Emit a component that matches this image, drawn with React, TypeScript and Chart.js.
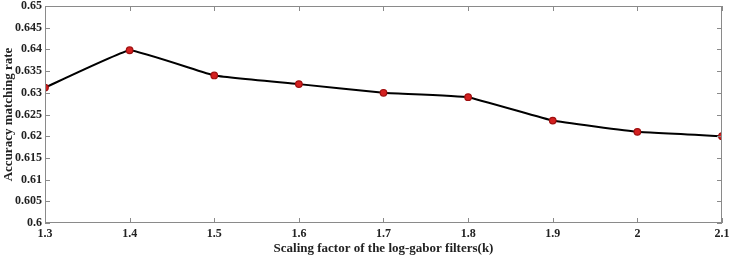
import React, { useEffect, useRef } from "react";
import { Chart, registerables } from "chart.js";
Chart.register(...registerables);

const xValues = [1.3, 1.4, 1.5, 1.6, 1.7, 1.8, 1.9, 2.0, 2.1];
const accuracy = [0.6312, 0.6398, 0.634, 0.632, 0.630, 0.629, 0.6236, 0.621, 0.620];
const yTicks = [0.6, 0.605, 0.61, 0.615, 0.62, 0.625, 0.63, 0.635, 0.64, 0.645, 0.65];

const boxTicks = {
  id: "boxTicks",
  afterDraw(chart: any) {
    const { ctx, chartArea: a, scales } = chart;
    ctx.save();
    ctx.strokeStyle = "#8a8a8a";
    ctx.lineWidth = 1;
    ctx.strokeRect(a.left + 0.5, a.top + 0.5, a.right - a.left - 1, a.bottom - a.top - 1);
    const len = 5;
    ctx.beginPath();
    scales.x.ticks.forEach((t: any) => {
      const px = Math.round(scales.x.getPixelForValue(t.value)) + 0.5;
      ctx.moveTo(px, a.bottom);
      ctx.lineTo(px, a.bottom - len);
      ctx.moveTo(px, a.top);
      ctx.lineTo(px, a.top + len);
    });
    scales.y.ticks.forEach((t: any) => {
      const py = Math.round(scales.y.getPixelForValue(t.value)) + 0.5;
      ctx.moveTo(a.left, py);
      ctx.lineTo(a.left + len, py);
      ctx.moveTo(a.right, py);
      ctx.lineTo(a.right - len, py);
    });
    ctx.stroke();
    ctx.restore();
  },
};

export default function App() {
  const ref = useRef<HTMLCanvasElement>(null);
  useEffect(() => {
    const font = { family: "'Liberation Serif', 'Times New Roman', serif", weight: "bold" as const };
    const chart = new Chart(ref.current!, {
      type: "line",
      data: {
        datasets: [
          {
            data: xValues.map((x, i) => ({ x, y: accuracy[i] })),
            borderColor: "#000000",
            borderWidth: 2,
            tension: 0.08,
            pointRadius: 3.3,
            pointBackgroundColor: "#d42020",
            pointBorderColor: "#a01010",
            pointBorderWidth: 1.2,
          },
        ],
      },
      options: {
        animation: false,
        responsive: false,
        maintainAspectRatio: false,
        layout: { padding: { top: 6, right: 10, left: 0, bottom: 0 } },
        plugins: { legend: { display: false }, tooltip: { enabled: false } },
        scales: {
          x: {
            type: "linear",
            min: 1.3,
            max: 2.1,
            grid: { display: false, drawTicks: false },
            border: { display: false },
            ticks: {
              stepSize: 0.1,
              autoSkip: false,
              padding: 4,
              color: "#222",
              font: { ...font, size: 12 },
              callback: (v: any) => String(Math.round(Number(v) * 10) / 10),
            },
            afterBuildTicks: (s: any) => {
              s.ticks = xValues.map((v) => ({ value: v }));
            },
            afterFit: (s: any) => {
              s.height = 33;
              s.paddingLeft = 0;
              s.paddingRight = 0;
            },
            title: {
              display: true,
              text: "Scaling factor of the log-gabor filters(k)",
              color: "#222",
              font: { ...font, size: 13 },
              padding: { top: 0, bottom: 0 },
            },
          },
          y: {
            min: 0.6,
            max: 0.65,
            grid: { display: false, drawTicks: false },
            border: { display: false },
            afterBuildTicks: (s: any) => {
              s.ticks = yTicks.map((v) => ({ value: v }));
            },
            afterFit: (s: any) => {
              s.width = 45;
              s.paddingTop = 0;
              s.paddingBottom = 0;
            },
            ticks: {
              padding: 3,
              color: "#222",
              font: { ...font, size: 12 },
              callback: (v: any) => String(Math.round(Number(v) * 1000) / 1000),
            },
            title: {
              display: true,
              text: "Accuracy matching rate",
              color: "#222",
              font: { ...font, size: 13 },
              padding: { top: 1, bottom: 0 },
            },
          },
        },
      },
      plugins: [boxTicks],
    });
    return () => chart.destroy();
  }, []);
  return (
    <div style={{ position: "fixed", left: 0, top: 0, width: 732, height: 256, background: "#fff" }}>
      <canvas ref={ref} width={732} height={256} style={{ width: 732, height: 256 }} />
    </div>
  );
}
